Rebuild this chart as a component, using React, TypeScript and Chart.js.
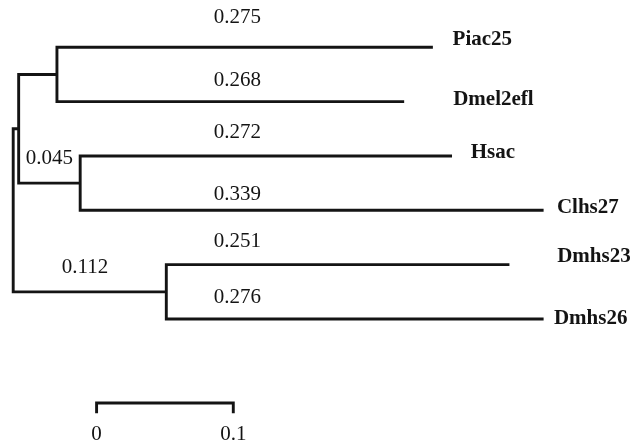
import React, { useEffect, useRef } from "react";
import { Chart, registerables } from "chart.js";

Chart.register(...registerables);

// ---- Data: tree topology and branch lengths ----
const leafNames = ["Piac25", "Dmel2efl", "Hsac", "Clhs27", "Dmhs23", "Dmhs26"];
const leafParents = ["B", "B", "C", "C", "D", "D"];
const leafBranchLengths = [0.275, 0.254, 0.272, 0.339, 0.251, 0.276];
const leafBranchLabels = ["0.275", "0.268", "0.272", "0.339", "0.251", "0.276"];

const innerNodes = ["A", "B", "C", "D"];
const innerParents = ["root", "A", "A", "root"];
const innerBranchLengths = [0.004, 0.028, 0.045, 0.112];
const innerBranchLabels = ["", "", "0.045", "0.112"];

const scaleBarLength = 0.1;
const scaleBarStart = 0.061;
const scaleBarTickLabels = ["0", "0.1"];

// ---- Layout / style constants (px offsets for text) ----
const leafBranchLabelX = 0.164;
const leafBranchLabelDy = [-29.8, -21.2, -23.2, -16.2, -23.2, -21.5];
const leafNameDx = [19.7, 49, 18.7, 13.3, 47.7, 10.3];
const leafNameDy = [-7.3, -2.4, -3, -3.2, -8.2, 0];
const innerLabelDx = [0, 0, 0, -4.7];
const innerLabelDy = -24.5;
const scaleBarY = 6.546;
const scaleBarTickY = 6.735;
const scaleBarLabelDy = 31;

const INK = "#141414";
const SERIF = '"Liberation Serif", "Times New Roman", serif';

type P = { x: number; y: number };

function buildTree() {
  const xs: Record<string, number> = { root: 0 };
  const ys: Record<string, number> = {};
  const children: Record<string, string[]> = { root: [] };
  innerNodes.forEach((n) => (children[n] = []));
  innerNodes.forEach((n, i) => children[innerParents[i]].push(n));
  leafNames.forEach((n, i) => {
    children[leafParents[i]].push(n);
    ys[n] = i;
  });
  const setX = (node: string) => {
    children[node]?.forEach((c) => {
      const li = leafNames.indexOf(c);
      if (li >= 0) xs[c] = xs[node] + leafBranchLengths[li];
      else {
        xs[c] = xs[node] + innerBranchLengths[innerNodes.indexOf(c)];
        setX(c);
      }
    });
  };
  setX("root");
  const getY = (node: string): number => {
    if (ys[node] !== undefined) return ys[node];
    const cs = children[node];
    const v = cs.reduce((s, c) => s + getY(c), 0) / cs.length;
    ys[node] = v;
    return v;
  };
  getY("root");
  return { xs, ys, children };
}

export default function App() {
  const ref = useRef<HTMLCanvasElement | null>(null);

  useEffect(() => {
    if (!ref.current) return;
    const { xs, ys, children } = buildTree();

    const segs: P[][] = [];
    ["root", ...innerNodes].forEach((n) => {
      const cs = [...children[n]].sort((a, b) => ys[a] - ys[b]);
      const first = cs[0];
      const last = cs[cs.length - 1];
      segs.push([
        { x: xs[first], y: ys[first] },
        { x: xs[n], y: ys[first] },
        { x: xs[n], y: ys[last] },
        { x: xs[last], y: ys[last] },
      ]);
    });
    segs.push([
      { x: scaleBarStart, y: scaleBarTickY },
      { x: scaleBarStart, y: scaleBarY },
      { x: scaleBarStart + scaleBarLength, y: scaleBarY },
      { x: scaleBarStart + scaleBarLength, y: scaleBarTickY },
    ]);

    const textPlugin = {
      id: "treeText",
      afterDatasetsDraw(chart: any) {
        const ctx = chart.ctx as CanvasRenderingContext2D;
        const sx = chart.scales.x;
        const sy = chart.scales.y;
        ctx.save();
        ctx.fillStyle = INK;
        ctx.textBaseline = "middle";

        // branch length labels for leaves
        ctx.font = `21px ${SERIF}`;
        ctx.textAlign = "center";
        leafNames.forEach((n, i) => {
          ctx.fillText(
            leafBranchLabels[i],
            sx.getPixelForValue(leafBranchLabelX),
            sy.getPixelForValue(ys[n]) + leafBranchLabelDy[i]
          );
        });
        // inner branch labels
        innerNodes.forEach((n, i) => {
          if (!innerBranchLabels[i]) return;
          const px = xs[innerParents[i]];
          const mid = (sx.getPixelForValue(px) + sx.getPixelForValue(xs[n])) / 2;
          ctx.fillText(
            innerBranchLabels[i],
            mid + innerLabelDx[i],
            sy.getPixelForValue(ys[n]) + innerLabelDy
          );
        });
        // scale bar labels
        scaleBarTickLabels.forEach((t, i) => {
          ctx.fillText(
            t,
            sx.getPixelForValue(scaleBarStart + i * scaleBarLength),
            sy.getPixelForValue(scaleBarY) + scaleBarLabelDy
          );
        });

        // leaf names
        ctx.font = `bold 21px ${SERIF}`;
        ctx.textAlign = "left";
        leafNames.forEach((n, i) => {
          ctx.fillText(
            n,
            sx.getPixelForValue(xs[n]) + leafNameDx[i],
            sy.getPixelForValue(ys[n]) + leafNameDy[i]
          );
        });
        ctx.restore();
      },
    };

    const chart = new Chart(ref.current, {
      type: "scatter",
      data: {
        datasets: segs.map((s) => ({
          data: s,
          showLine: true,
          borderColor: INK,
          borderWidth: 2.9,
          pointRadius: 0,
          pointHoverRadius: 0,
          tension: 0,
          fill: false,
          borderJoinStyle: "miter" as const,
          borderCapStyle: "butt" as const,
        })),
      },
      options: {
        responsive: false,
        animation: false,
        devicePixelRatio: 1,
        layout: { padding: 0 },
        events: [],
        plugins: {
          legend: { display: false },
          tooltip: { enabled: false },
        },
        scales: {
          x: {
            type: "linear",
            display: false,
            min: -0.009656,
            max: 0.45193,
          },
          y: {
            type: "linear",
            display: false,
            reverse: true,
            min: -0.8705,
            max: 7.3371,
          },
        },
      },
      plugins: [textPlugin],
    });
    return () => chart.destroy();
  }, []);

  return (
    <div
      style={{
        position: "fixed",
        left: 0,
        top: 0,
        width: 631,
        height: 446,
        background: "#ffffff",
      }}
    >
      <canvas ref={ref} width={631} height={446} style={{ display: "block" }} />
    </div>
  );
}
